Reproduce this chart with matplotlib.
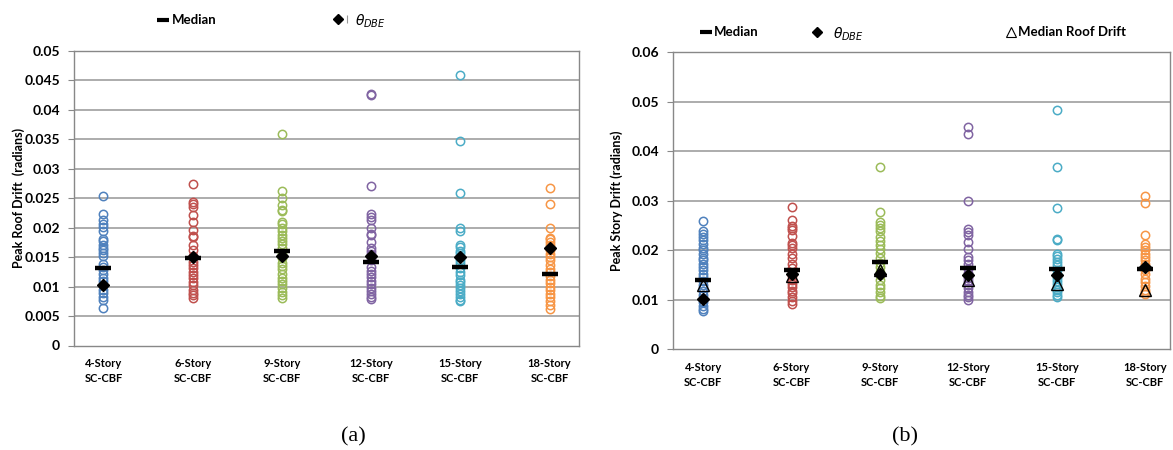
import matplotlib
matplotlib.use('Agg')
import matplotlib.pyplot as plt

plt.rcParams['font.family'] = ['Lato', 'DejaVu Sans']
plt.rcParams['mathtext.fontset'] = 'dejavusans'

# ---- data -------------------------------------------------------------
categories = ['4-Story\nSC-CBF', '6-Story\nSC-CBF', '9-Story\nSC-CBF',
              '12-Story\nSC-CBF', '15-Story\nSC-CBF', '18-Story\nSC-CBF']
colors = ['#4F81BD', '#C0504D', '#9BBB59', '#8064A2', '#4BACC6', '#F79646']

roof_4 = [0.0253, 0.0223, 0.0213, 0.0207, 0.0201, 0.0194, 0.0181, 0.0178, 0.0170,
          0.0166, 0.0162, 0.0157, 0.0152, 0.0139, 0.0134, 0.0128, 0.0122, 0.0115,
          0.0110, 0.0102, 0.0095, 0.0089, 0.0082, 0.0078, 0.0064]
roof_6 = [0.0275, 0.0244, 0.0240, 0.0235, 0.0222, 0.0209, 0.0196, 0.0186, 0.0184,
          0.0170, 0.0162, 0.0152, 0.0142, 0.0136, 0.0131, 0.0125, 0.0119, 0.0114,
          0.0108, 0.0102, 0.0095, 0.0089, 0.0085, 0.0080]
roof_9 = [0.0359, 0.0262, 0.0250, 0.0238, 0.0230, 0.0228, 0.0210, 0.0207, 0.0200,
          0.0195, 0.0188, 0.0182, 0.0178, 0.0172, 0.0165, 0.0155, 0.0148, 0.0140,
          0.0135, 0.0130, 0.0122, 0.0115, 0.0110, 0.0104, 0.0098, 0.0091, 0.0085, 0.0081]
roof_12 = [0.0427, 0.0425, 0.0270, 0.0223, 0.0218, 0.0213, 0.0200, 0.0190, 0.0188,
           0.0176, 0.0165, 0.0160, 0.0155, 0.0150, 0.0145, 0.0134, 0.0127, 0.0122,
           0.0116, 0.0110, 0.0104, 0.0097, 0.0093, 0.0088, 0.0082, 0.0079]
roof_15 = [0.0460, 0.0348, 0.0259, 0.0200, 0.0194, 0.0171, 0.0168, 0.0161, 0.0157,
           0.0152, 0.0146, 0.0140, 0.0131, 0.0125, 0.0120, 0.0112, 0.0108, 0.0102,
           0.0098, 0.0093, 0.0088, 0.0083, 0.0077, 0.0075]
roof_18 = [0.0267, 0.0240, 0.0200, 0.0183, 0.0180, 0.0176, 0.0170, 0.0162, 0.0155,
           0.0150, 0.0145, 0.0137, 0.0130, 0.0125, 0.0118, 0.0112, 0.0106, 0.0100,
           0.0094, 0.0088, 0.0082, 0.0075, 0.0068, 0.0062]
roof_median = [0.0131, 0.0148, 0.0161, 0.0141, 0.0134, 0.0122]
roof_theta = [0.0102, 0.0151, 0.0152, 0.0152, 0.0151, 0.0166]

story_4 = [0.0260, 0.0239, 0.0233, 0.0227, 0.0220, 0.0212, 0.0205, 0.0200, 0.0192,
           0.0185, 0.0180, 0.0173, 0.0167, 0.0160, 0.0152, 0.0146, 0.0138, 0.0130,
           0.0123, 0.0117, 0.0110, 0.0102, 0.0095, 0.0088, 0.0082, 0.0078]
story_6 = [0.0287, 0.0261, 0.0250, 0.0246, 0.0241, 0.0228, 0.0214, 0.0210, 0.0204,
           0.0193, 0.0185, 0.0172, 0.0165, 0.0155, 0.0148, 0.0140, 0.0132, 0.0125,
           0.0118, 0.0113, 0.0106, 0.0098, 0.0091]
story_9 = [0.0368, 0.0278, 0.0258, 0.0251, 0.0245, 0.0238, 0.0226, 0.0218, 0.0211,
           0.0202, 0.0194, 0.0184, 0.0175, 0.0167, 0.0157, 0.0150, 0.0140, 0.0130,
           0.0123, 0.0116, 0.0108, 0.0104]
story_12 = [0.0450, 0.0434, 0.0299, 0.0243, 0.0236, 0.0230, 0.0217, 0.0203, 0.0186,
            0.0180, 0.0172, 0.0163, 0.0155, 0.0145, 0.0138, 0.0130, 0.0124, 0.0116,
            0.0110, 0.0105, 0.0099]
story_15 = [0.0483, 0.0368, 0.0285, 0.0222, 0.0220, 0.0193, 0.0188, 0.0182, 0.0176,
            0.0170, 0.0160, 0.0152, 0.0145, 0.0138, 0.0132, 0.0125, 0.0120, 0.0115,
            0.0110, 0.0106]
story_18 = [0.0309, 0.0295, 0.0231, 0.0213, 0.0207, 0.0200, 0.0193, 0.0187, 0.0180,
            0.0172, 0.0160, 0.0152, 0.0143, 0.0135, 0.0127, 0.0120, 0.0115, 0.0112]
story_median = [0.0141, 0.0160, 0.0177, 0.0165, 0.0162, 0.0163]
story_theta = [0.0102, 0.0152, 0.0152, 0.0150, 0.0150, 0.0166]
roof_median_tri = [0.0130, 0.0148, 0.0160, 0.0140, 0.0132, 0.0120]

roof_ticks = [0, 0.005, 0.01, 0.015, 0.02, 0.025, 0.03, 0.035, 0.04, 0.045, 0.05]
roof_tick_labels = ['0', '0.005', '0.01', '0.015', '0.02', '0.025', '0.03',
                    '0.035', '0.04', '0.045', '0.05']
story_ticks = [0, 0.01, 0.02, 0.03, 0.04, 0.05, 0.06]
story_tick_labels = ['0', '0.01', '0.02', '0.03', '0.04', '0.05', '0.06']

roof_sets = [roof_4, roof_6, roof_9, roof_12, roof_15, roof_18]
story_sets = [story_4, story_6, story_9, story_12, story_15, story_18]

GRID = '#a6a6a6'


def style_axes(ax, ticks, labels, ylabel, xlim):
    ax.set_xlim(*xlim)
    ax.set_ylim(ticks[0], ticks[-1])
    ax.set_yticks(ticks)
    ax.set_yticklabels(labels, fontsize=10, fontweight='bold')
    ax.set_xticks(range(1, 7))
    ax.set_xticklabels(categories, fontsize=8, fontweight='bold', linespacing=1.5)
    ax.tick_params(axis='x', length=0, pad=9)
    ax.tick_params(axis='y', length=4, color='#888888', pad=6)
    for t in ticks[1:]:
        ax.axhline(t, color=GRID, lw=1.3, zorder=0)
    for s in ax.spines.values():
        s.set_color('#888888')
        s.set_linewidth(1.0)
    ax.set_ylabel(ylabel, fontsize=9, fontweight='bold')


def draw_points(ax, sets, med, theta):
    for i, vals in enumerate(sets):
        ax.plot([i + 1] * len(vals), vals, 'o', mfc='none', mec=colors[i],
                ms=6, mew=1.1, zorder=2, clip_on=False)
    ax.plot(range(1, 7), med, '_', color='black', ms=12, mew=3.2, zorder=4)
    ax.plot(range(1, 7), theta, 'D', color='black', ms=6.5, zorder=5)


fig = plt.figure(figsize=(11.73, 4.5), dpi=100)

# panel (a)
ax1 = fig.add_axes([74 / 1173, 1 - 345.5 / 450, 505 / 1173, 294.5 / 450])
style_axes(ax1, roof_ticks, roof_tick_labels, 'Peak Roof Drift  (radians)', (0.67, 6.33))
draw_points(ax1, roof_sets, roof_median, roof_theta)
ax1.yaxis.set_label_coords(-0.098, 0.5)

ax1.plot([0.177], [1.106], '_', color='black', ms=8, mew=3, transform=ax1.transAxes, clip_on=False)
ax1.text(0.193, 1.106, 'Median', transform=ax1.transAxes, fontsize=9.5,
         fontweight='bold', va='center')
ax1.plot([0.523], [1.108], 'D', color='black', ms=5.5, transform=ax1.transAxes, clip_on=False)
ax1.plot([0.541], [1.108], '|', color='#999999', ms=6, mew=0.8, transform=ax1.transAxes, clip_on=False)
ax1.text(0.557, 1.1, r'$\theta_{\mathit{DBE}}$', transform=ax1.transAxes, fontsize=10,
         va='center')

# panel (b)
ax2 = fig.add_axes([673 / 1173, 1 - 349.3 / 450, 497 / 1173, 297 / 450])
style_axes(ax2, story_ticks, story_tick_labels, 'Peak Story Drift (radians)', (0.66, 6.28))
draw_points(ax2, story_sets, story_median, story_theta)
ax2.plot(range(1, 7), roof_median_tri, '^', mfc='none', mec='black', ms=8.5, mew=1.0, zorder=6)
ax2.yaxis.set_label_coords(-0.1, 0.5)

ax2.plot([0.066], [1.069], '_', color='black', ms=8, mew=3, transform=ax2.transAxes, clip_on=False)
ax2.text(0.083, 1.069, 'Median', transform=ax2.transAxes, fontsize=9.5,
         fontweight='bold', va='center')
ax2.plot([0.29], [1.069], 'D', color='black', ms=5.5, transform=ax2.transAxes, clip_on=False)
ax2.text(0.322, 1.062, r'$\theta_{\mathit{DBE}}$', transform=ax2.transAxes, fontsize=10,
         va='center')
ax2.plot([0.68], [1.069], '^', mfc='none', mec='black', ms=7, mew=0.8,
         transform=ax2.transAxes, clip_on=False)
ax2.text(0.694, 1.069, 'Median Roof Drift', transform=ax2.transAxes, fontsize=9.5,
         fontweight='bold', va='center')

# captions
fig.text(353 / 1173, 1 - 437 / 450, '(a)', fontsize=16, family='Liberation Serif',
         ha='center', va='center')
fig.text(905 / 1173, 1 - 437 / 450, '(b)', fontsize=16, family='Liberation Serif',
         ha='center', va='center')

fig.savefig('out.png', dpi=100, facecolor='white')
